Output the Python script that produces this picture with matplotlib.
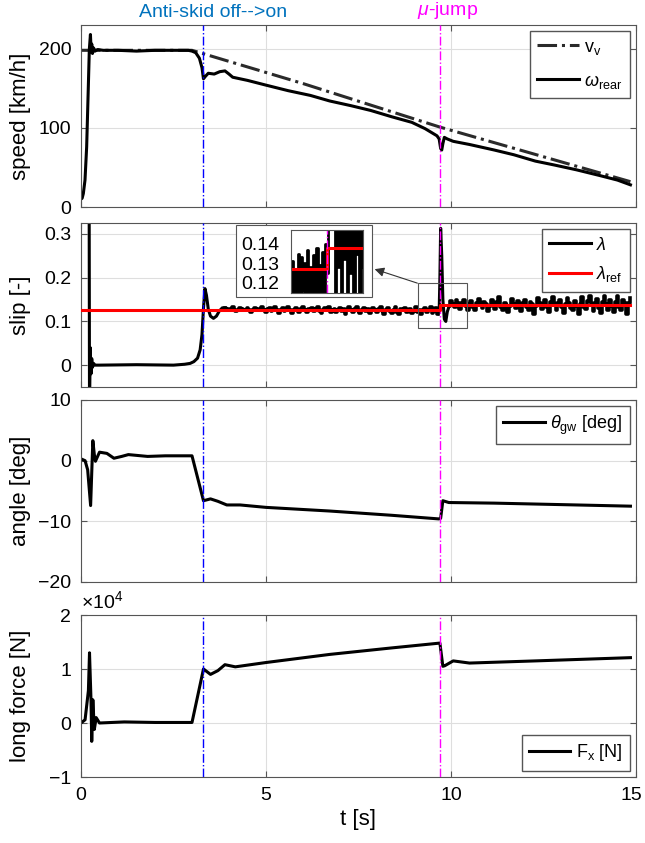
import numpy as np
import matplotlib
matplotlib.use("Agg")
import matplotlib.pyplot as plt
from matplotlib.patches import Rectangle, FancyArrowPatch
from matplotlib.transforms import blended_transform_factory, ScaledTranslation

plt.rcParams['font.family'] = ['Liberation Sans', 'DejaVu Sans']
plt.rcParams['mathtext.fontset'] = 'custom'
plt.rcParams['mathtext.rm'] = 'Liberation Sans'
plt.rcParams['mathtext.it'] = 'Liberation Sans:italic'
plt.rcParams['mathtext.bf'] = 'Liberation Sans:bold'

# event times [s]
t_antiskid = 3.31
t_mujump = 9.7

# ---- speed [km/h]
t_vv = [0.0, 3.0, 6.0, 9.7, 14.85]
v_v = [198, 198, 156, 101, 32]

t_wr = [0.0, 0.03, 0.063, 0.108, 0.153, 0.198, 0.225, 0.255, 0.275, 0.29, 0.31, 0.34, 0.38,
        0.45, 0.6, 1.0, 1.5, 2.0, 2.5, 2.9, 3.0, 3.1, 3.2, 3.27, 3.31, 3.36, 3.44, 3.6, 3.75,
        3.89, 4.0, 4.1, 4.5, 5.0, 5.6, 6.2, 6.72, 7.3, 7.83, 8.4, 8.94, 9.3, 9.62, 9.68, 9.72,
        9.75, 9.78, 9.82, 9.9, 10.06, 10.5, 11.17, 11.7, 12.28, 12.8, 13.39, 14.0, 14.5, 14.85]
w_rear = [10, 11, 17, 34, 76, 152, 199, 218, 196, 206, 194, 201, 197,
          199, 198, 198, 197, 198, 198, 198, 197, 195, 188, 176, 162, 165, 169, 168, 171,
          172, 168, 164, 160, 154, 147, 141, 134, 128, 122, 114, 107, 99, 90, 86, 74,
          72, 80, 88, 86, 83, 79, 72, 66, 58, 53, 47, 40, 34, 28]

# ---- slip [-]
t_slip_start = [0.0, 0.21, 0.23, 0.25, 0.27, 0.29, 0.31, 0.34, 0.38, 0.5, 1.5, 2.5, 2.8, 2.95,
                3.05, 3.15, 3.22, 3.27, 3.31, 3.35, 3.39, 3.44, 3.5, 3.58, 3.66, 3.74, 3.82, 3.9]
slip_start = [0.9, 0.9, -0.1, 0.04, -0.02, 0.015, -0.005, 0.004, 0.0, 0.0, 0.001, 0.0, 0.002,
              0.004, 0.008, 0.016, 0.035, 0.07, 0.13, 0.175, 0.16, 0.128, 0.112, 0.107, 0.112,
              0.124, 0.131, 0.131]
slip_mid = [0.131, 0.128, 0.126, 0.129, 0.132, 0.127, 0.124, 0.126, 0.130, 0.128,
            0.125, 0.127, 0.131, 0.126, 0.122, 0.127, 0.130, 0.128, 0.125, 0.129,
            0.133, 0.126, 0.121, 0.128, 0.131, 0.124, 0.127, 0.132, 0.125, 0.120,
            0.127, 0.130, 0.124, 0.129, 0.133, 0.126, 0.119, 0.125, 0.131, 0.127,
            0.122, 0.128, 0.134, 0.125, 0.121, 0.129, 0.126, 0.131, 0.123, 0.128,
            0.132, 0.124, 0.119, 0.127, 0.130, 0.125, 0.133, 0.122, 0.126, 0.129,
            0.121, 0.127, 0.131, 0.124, 0.128, 0.118, 0.126, 0.132, 0.125, 0.122,
            0.129, 0.133, 0.123, 0.120, 0.127, 0.130, 0.124, 0.128, 0.119, 0.126,
            0.131, 0.125, 0.121, 0.128, 0.134, 0.123, 0.117, 0.126, 0.130, 0.124,
            0.120, 0.127, 0.132, 0.122, 0.118, 0.128, 0.125, 0.131, 0.121, 0.126,
            0.129, 0.119, 0.124, 0.133, 0.122, 0.127, 0.116, 0.125, 0.130, 0.121,
            0.126, 0.134, 0.120, 0.124, 0.131, 0.118]
t_slip_jump = [9.65, 9.68, 9.70, 9.72, 9.75, 9.78, 9.82, 9.86, 9.90, 9.95]
slip_jump = [0.118, 0.122, 0.20, 0.313, 0.25, 0.15, 0.105, 0.100, 0.122, 0.135]
slip_end = [0.135, 0.146, 0.139, 0.132, 0.148, 0.141, 0.129, 0.143, 0.150, 0.136,
            0.127, 0.140, 0.147, 0.133, 0.125, 0.142, 0.151, 0.137, 0.130, 0.145,
            0.139, 0.124, 0.136, 0.149, 0.141, 0.128, 0.144, 0.155, 0.134, 0.126,
            0.143, 0.138, 0.121, 0.135, 0.152, 0.140, 0.131, 0.146, 0.137, 0.123,
            0.141, 0.150, 0.133, 0.127, 0.145, 0.139, 0.118, 0.136, 0.154, 0.142,
            0.129, 0.137, 0.148, 0.132, 0.122, 0.144, 0.156, 0.138, 0.126, 0.141,
            0.149, 0.134, 0.120, 0.139, 0.153, 0.143, 0.130, 0.125, 0.147, 0.136,
            0.117, 0.140, 0.155, 0.133, 0.128, 0.146, 0.158, 0.137, 0.124, 0.142,
            0.151, 0.131, 0.119, 0.144, 0.157, 0.139, 0.127, 0.148, 0.135, 0.121,
            0.145, 0.159, 0.132, 0.126, 0.150, 0.141, 0.118, 0.143, 0.154]
t_ref = [0.0, 9.7, 9.7, 14.85]
lam_ref = [0.127, 0.127, 0.138, 0.138]

# zoomed slip around the mu-jump (inset)
slip_zoom = [0.113, 0.131, 0.110, 0.127, 0.114, 0.135, 0.109, 0.133, 0.116, 0.130, 0.111, 0.137,
             0.108, 0.128, 0.115, 0.134, 0.110, 0.138, 0.112, 0.129, 0.109, 0.136, 0.113, 0.140,
             0.125, 0.20, 0.31, 0.30, 0.24, 0.11, 0.18, 0.128, 0.16, 0.112, 0.17, 0.132,
             0.155, 0.110, 0.165, 0.125, 0.158, 0.113, 0.162, 0.135, 0.15, 0.111, 0.16, 0.128]

# ---- angle [deg]
t_ang = [0.0, 0.11, 0.18, 0.26, 0.29, 0.32, 0.36, 0.39, 0.5, 0.7, 0.89, 1.1, 1.28, 1.8, 2.28,
         3.0, 3.31, 3.5, 3.7, 3.94, 4.3, 5.0, 6.72, 8.39, 9.67, 9.72, 9.78, 9.94, 11.17,
         13.39, 14.85]
angle = [0.3, 0.0, -1.5, -7.4, -2.0, 3.3, 1.0, -0.1, 1.4, 1.2, 0.4, 0.7, 1.0, 0.7, 0.8,
         0.8, -6.6, -6.3, -6.7, -7.3, -7.3, -7.7, -8.3, -9.0, -9.6, -9.5, -6.6, -6.9, -7.0,
         -7.3, -7.5]

# ---- longitudinal force [x 1e4 N]
t_fx = [0.0, 0.11, 0.2, 0.23, 0.27, 0.29, 0.32, 0.36, 0.41, 0.5, 1.17, 2.0, 3.0, 3.31, 3.5,
        3.7, 3.89, 4.17, 5.0, 6.72, 8.39, 9.7, 9.78, 9.83, 10.06, 10.5, 12.28, 14.85]
fx = [0.0, 0.06, 0.6, 1.3, 0.43, -0.34, 0.43, -0.12, 0.1, 0.0, 0.02, 0.01, 0.01, 1.0, 0.9,
      0.97, 1.08, 1.04, 1.12, 1.27, 1.39, 1.48, 1.05, 1.06, 1.15, 1.11, 1.15, 1.21]

t_mid = np.linspace(3.9, 9.65, len(slip_mid))
t_end = np.linspace(9.95, 14.85, len(slip_end))
t_zoom = np.linspace(9.58, 9.82, len(slip_zoom))

spine_c = '#555555'
grid_c = '#dedede'
lw = 2.2

fig = plt.figure(figsize=(6.45, 8.43), dpi=100)
W, H = 645.0, 843.0
left, right = 81, 636
boxes = [(25, 207), (223, 387), (400, 582), (615, 777)]
axes = []
for top, bot in boxes:
    ax = fig.add_axes([left / W, 1 - bot / H, (right - left) / W, (bot - top) / H])
    axes.append(ax)

for ax in axes:
    ax.set_xlim(0, 15)
    ax.set_xticks([0, 5, 10, 15])
    ax.grid(True, color=grid_c, lw=0.8)
    ax.set_axisbelow(True)
    ax.tick_params(direction='in', top=True, right=True, length=4, color=spine_c,
                   labelsize=14, pad=7)
    for s in ax.spines.values():
        s.set_color(spine_c)
        s.set_linewidth(0.8)
    ax.axvline(t_antiskid, color='#0000FF', ls='-.', lw=1.0, zorder=3)
    ax.axvline(t_mujump, color='#FF00FF', ls='-.', lw=1.0, zorder=3)
    ax.yaxis.set_label_coords(-0.09, 0.5)
    if ax is not axes[-1]:
        ax.tick_params(labelbottom=False)

leg_kw = dict(fancybox=False, edgecolor=spine_c, framealpha=1, fontsize=13,
              borderaxespad=0.35, handlelength=2.3, handletextpad=0.3, borderpad=0.4)

# speed
ax1 = axes[0]
ax1.plot(t_vv, v_v, color='#2a2a2a', ls='-.', lw=lw, label=r'v$_\mathrm{v}$')
ax1.plot(t_wr, w_rear, color='black', lw=lw, label=r'$\omega_{\mathrm{rear}}$')
ax1.set_ylim(0, 230)
ax1.set_yticks([0, 100, 200])
ax1.set_ylabel('speed [km/h]', fontsize=16)
ax1.legend(loc='upper right', labelspacing=0.9, **leg_kw)
tr = blended_transform_factory(ax1.transData, ax1.transAxes)
ax1.text(t_antiskid + 0.27, 1.02, 'Anti-skid off-->on', transform=tr, ha='center', va='bottom',
         color='#0072BD', fontsize=14)
ax1.text(t_mujump + 0.2, 1.02, r'$\mu$-jump', transform=tr, ha='center', va='bottom',
         color='#FF00FF', fontsize=14)

# slip
ax2 = axes[1]
ax2.plot(t_slip_start, slip_start, color='black', lw=lw, label=r'$\lambda$')
ax2.plot(t_mid, slip_mid, color='black', lw=2.6, drawstyle='steps-mid')
ax2.plot(t_slip_jump, slip_jump, color='black', lw=lw)
ax2.plot(t_end, slip_end, color='black', lw=2.6, drawstyle='steps-mid')
ax2.plot(t_ref, lam_ref, color='#FF0000', lw=lw, label=r'$\lambda_{\mathrm{ref}}$', zorder=4)
ax2.set_ylim(-0.05, 0.325)
ax2.set_yticks([0, 0.1, 0.2, 0.3])
ax2.set_yticklabels(['0', '0.1', '0.2', '0.3'])
ax2.set_ylabel('slip [-]', fontsize=16)
ax2.legend(loc='upper right', labelspacing=0.6, **leg_kw)
ax2.add_patch(Rectangle((9.11, 0.085), 1.32, 0.103, fill=False, edgecolor=spine_c,
                        lw=0.8, zorder=5))

# inset frame and inset axes
fig.patches.append(Rectangle((236 / W, 1 - 297 / H), 136 / W, 72 / H, transform=fig.transFigure,
                             facecolor='white', edgecolor=spine_c, lw=0.8, zorder=6))
axi = fig.add_axes([290.7 / W, 1 - 292.7 / H, 72.3 / W, 62.7 / H], zorder=7)
axi.plot(t_zoom, slip_zoom, color='black', lw=2.0, drawstyle='steps-mid')
axi.plot(t_ref, lam_ref, color='#FF0000', lw=2.2)
axi.axvline(t_mujump, color='#FF00FF', ls='-.', lw=1.0)
axi.set_xlim(9.58, 9.82)
axi.set_ylim(0.115, 0.147)
axi.set_yticks([0.12, 0.13, 0.14])
axi.set_yticklabels(['0.12', '0.13', '0.14'])
axi.set_xticks([])
axi.tick_params(axis='y', length=0, labelsize=14, pad=8)
for s in axi.spines.values():
    s.set_color(spine_c)
    s.set_linewidth(0.8)
fig.add_artist(FancyArrowPatch(
    (420 / W, 1 - 284 / H), (372 / W, 1 - 268.3 / H), transform=fig.transFigure,
    arrowstyle='-|>', mutation_scale=14, color='#333333', lw=0.8, zorder=8))

# angle
ax3 = axes[2]
ax3.plot(t_ang, angle, color='black', lw=lw, label=r'$\theta_{\mathrm{gw}}$ [deg]')
ax3.set_ylim(-20, 10)
ax3.set_yticks([-20, -10, 0, 10])
ax3.set_ylabel('angle [deg]', fontsize=16)
ax3.legend(loc='upper right', **leg_kw)

# force
ax4 = axes[3]
ax4.plot(t_fx, fx, color='black', lw=lw, label=r'F$_\mathrm{x}$ [N]')
ax4.set_ylim(-1, 2)
ax4.set_yticks([-1, 0, 1, 2])
ax4.set_ylabel('long force [N]', fontsize=16)
ax4.set_xlabel('t [s]', fontsize=16)
ax4.legend(loc='lower right', **leg_kw)
ax4.text(0.0, 1.015, r'$\times$10$^4$', transform=ax4.transAxes, ha='left', va='bottom',
         fontsize=14)
# keep the last x tick label inside the figure
last = ax4.get_xticklabels()[-1]
last.set_transform(last.get_transform() + ScaledTranslation(-5 / 100, 0, fig.dpi_scale_trans))

fig.savefig('out.png', dpi=100)
